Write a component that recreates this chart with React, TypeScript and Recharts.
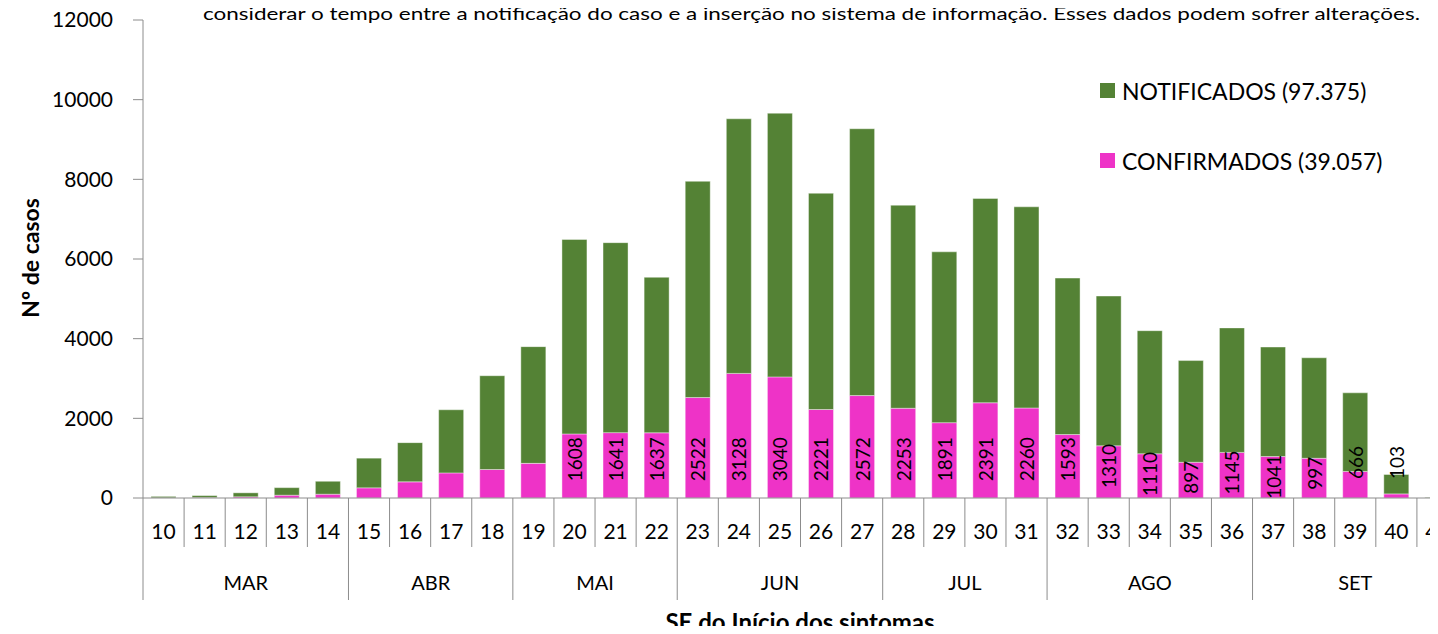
import React from 'react';
import { BarChart, Bar, XAxis, YAxis, LabelList } from 'recharts';

// semanas epidemiológicas (SE do início dos sintomas)
const weeks = [10, 11, 12, 13, 14, 15, 16, 17, 18, 19, 20, 21, 22, 23, 24, 25, 26, 27, 28, 29, 30, 31, 32, 33, 34, 35, 36, 37, 38, 39, 40, 41];

const confirmados = [5, 10, 30, 70, 95, 255, 405, 630, 715, 870, 1608, 1641, 1637, 2522, 3128, 3040, 2221, 2572, 2253, 1891, 2391, 2260, 1593, 1310, 1110, 897, 1145, 1041, 997, 666, 103, 2];

const notificados = [35, 50, 100, 190, 325, 745, 985, 1585, 2355, 2930, 4882, 4769, 3903, 5428, 6392, 6620, 5429, 6698, 5097, 4289, 5129, 5050, 3927, 3760, 3090, 2553, 3125, 2749, 2523, 1974, 487, 13];

const months = ['MAR', 'ABR', 'MAI', 'JUN', 'JUL', 'AGO', 'SET'];
const monthFirstWeek = [10, 15, 19, 23, 28, 32, 37];

const yTicks = [0, 2000, 4000, 6000, 8000, 10000, 12000];

const GREEN = '#548235';
const PINK = '#EE33C7';
const AXIS = '#8c8c8c';
const FONT = 'Lato, "Noto Sans", sans-serif';

const CHART_W = 1480;
const CHART_H = 634;
const PLOT_LEFT = 143;
const PLOT_RIGHT = 1458;
const BAND = (PLOT_RIGHT - PLOT_LEFT) / weeks.length;

const data = weeks.map((w, i) => ({
  week: String(w),
  confirmados: confirmados[i],
  notificados: notificados[i]
}));

const WeekTick = (props: any) => {
  const { x, y, payload, index } = props;
  const week = Number(payload.value);
  const left = x - BAND / 2;
  const mi = monthFirstWeek.indexOf(week);
  const isLast = index === weeks.length - 1;
  let monthLabel = null;
  if (mi >= 0) {
    const end = mi + 1 < monthFirstWeek.length ? monthFirstWeek[mi + 1] : weeks[weeks.length - 1] + 1;
    const span = end - week;
    monthLabel = (
      <text x={left + (span * BAND) / 2} y={y + 84} textAnchor="middle" dominantBaseline="central"
        fontSize={20} fontFamily={FONT} fill="#000">
        {months[mi]}
      </text>
    );
  }
  return (
    <g>
      <line x1={left} y1={y} x2={left} y2={y + (mi >= 0 ? 102 : 49)} stroke={AXIS} strokeWidth={1} />
      {isLast && (
        <line x1={left + BAND} y1={y} x2={left + BAND} y2={y + 102} stroke={AXIS} strokeWidth={1} />
      )}
      <text x={x} y={y + 32} textAnchor="middle" dominantBaseline="central" fontSize={21}
        fontFamily={FONT} fill="#000">
        {payload.value}
      </text>
      {monthLabel}
    </g>
  );
};

const ConfLabel = (props: any) => {
  const { x, y, width, height, value, index } = props;
  if (index < 10) return null;
  const cx = Number(x) + Number(width) / 2;
  const top = Number(y);
  const base = top + Number(height);
  const len = String(value).length * 10.8;
  const textTop = Math.max(top - 1, 438);
  let bottom = textTop + len;
  if (bottom > base + 2) bottom = base - 19;
  return (
    <text x={cx} y={bottom} transform={`rotate(-90 ${cx} ${bottom})`} textAnchor="start"
      dominantBaseline="central" fontSize={19} fontFamily={FONT} fill="#000">
      {value}
    </text>
  );
};

const App: React.FC = () => {
  return (
    <div style={{ position: 'relative', margin: -8, width: 1438, height: 634, overflow: 'hidden', background: '#fff' }}>
      <BarChart
        width={CHART_W}
        height={CHART_H}
        data={data}
        margin={{ top: 20, right: CHART_W - PLOT_RIGHT, bottom: 36, left: PLOT_LEFT - 60 }}
        barSize={25}
      >
        <XAxis
          dataKey="week"
          interval={0}
          height={100}
          tickLine={false}
          tickSize={0}
          tickMargin={0}
          axisLine={{ stroke: AXIS }}
          tick={<WeekTick />}
        />
        <YAxis
          width={60}
          domain={[0, 12000]}
          ticks={yTicks}
          tickSize={10}
          tickMargin={20}
          axisLine={{ stroke: AXIS }}
          tickLine={{ stroke: AXIS }}
          tick={{ fontSize: 21, fontFamily: FONT, fill: '#000' }}
        />
        <Bar dataKey="confirmados" stackId="a" fill={PINK} stroke="rgba(255,255,255,0.4)" isAnimationActive={false}>
          <LabelList dataKey="confirmados" content={<ConfLabel />} />
        </Bar>
        <Bar dataKey="notificados" stackId="a" fill={GREEN} stroke="rgba(255,255,255,0.4)" isAnimationActive={false} />
      </BarChart>
      <svg width={1438} height={634} style={{ position: 'absolute', left: 0, top: 0, pointerEvents: 'none' }}>
        <text x={203} y={13} dominantBaseline="central" fontSize={17} fontFamily={FONT} fill="#000"
          textLength={1217} lengthAdjust="spacingAndGlyphs">
          considerar o tempo entre a notificação do caso e a inserção no sistema de informação. Esses dados podem sofrer alterações.
        </text>
        <text x={30} y={258} transform="rotate(-90 30 258)" textAnchor="middle" dominantBaseline="central"
          fontSize={23} fontWeight="bold" fontFamily={FONT} fill="#000">
          Nº de casos
        </text>
        <text x={800} y={621} textAnchor="middle" dominantBaseline="central" fontSize={24}
          fontWeight="bold" fontFamily={FONT} fill="#000">
          SE do Início dos sintomas
        </text>
        <rect x={1100} y={83} width={15} height={15} fill={GREEN} />
        <text x={1122} y={91} dominantBaseline="central" fontSize={23} fontFamily={FONT} fill="#000">
          NOTIFICADOS (97.375)
        </text>
        <rect x={1100} y={153} width={15} height={15} fill={PINK} />
        <text x={1122} y={161} dominantBaseline="central" fontSize={23} fontFamily={FONT} fill="#000">
          CONFIRMADOS (39.057)
        </text>
      </svg>
    </div>
  );
};

export default App;
